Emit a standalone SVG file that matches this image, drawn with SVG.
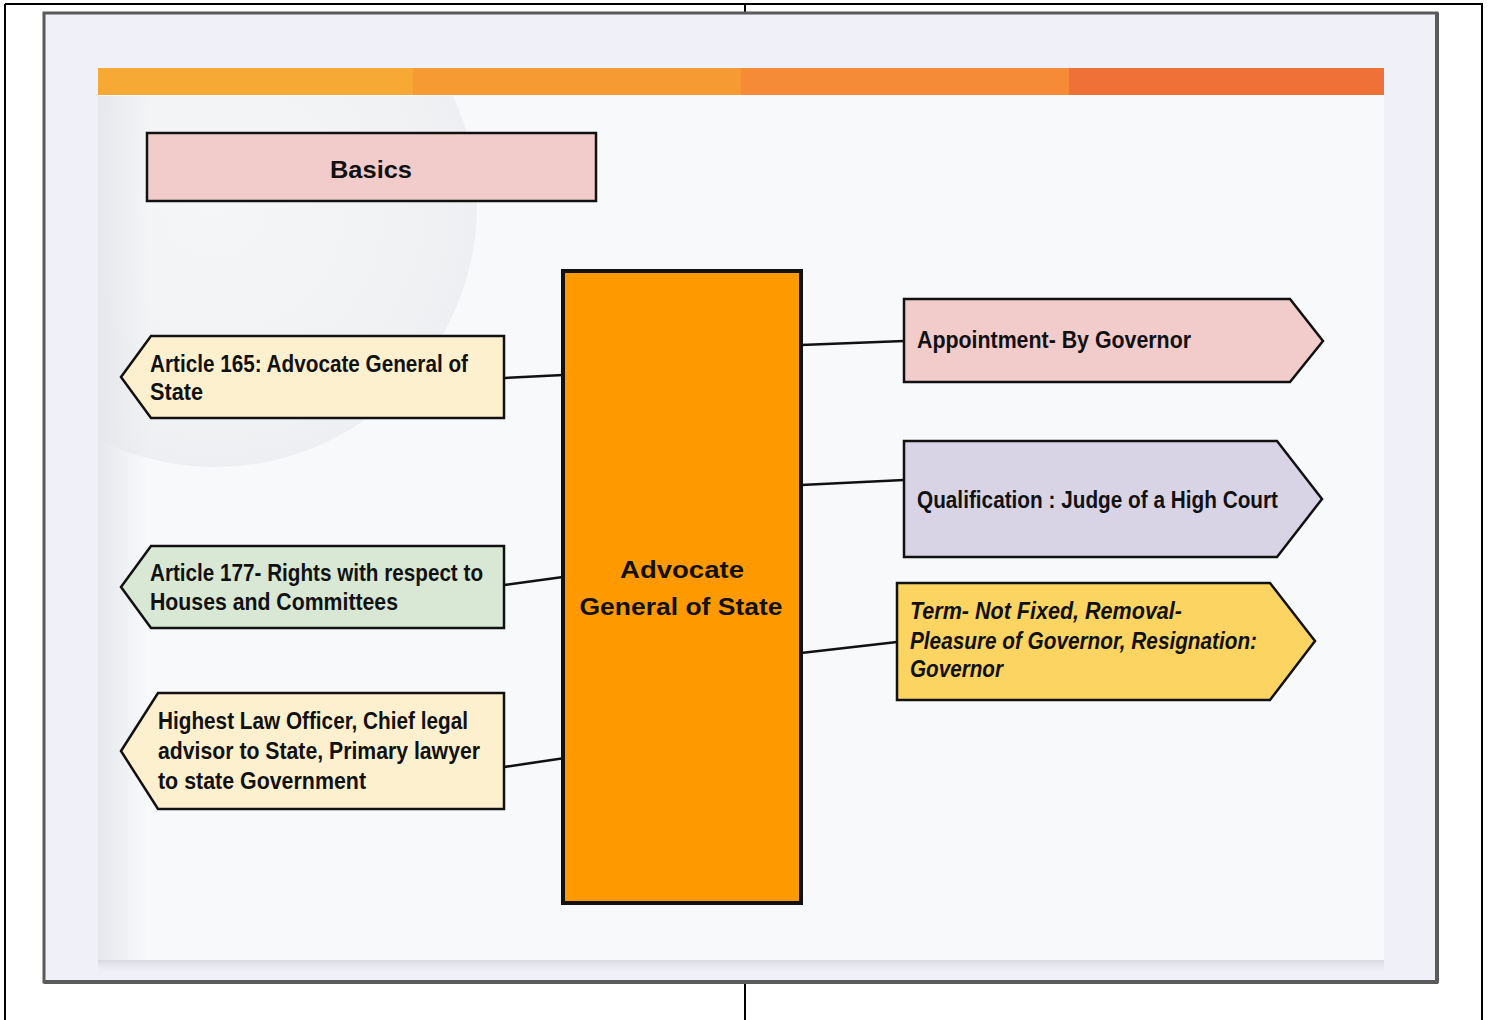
<svg xmlns="http://www.w3.org/2000/svg" width="1492" height="1020" viewBox="0 0 1492 1020">
  <defs>
    <style>
      .box { stroke: #111; stroke-width: 2.5; stroke-linejoin: miter; }
      .t { font-family: "Liberation Sans", Arial, sans-serif; font-weight: bold; font-size: 23px; fill: #111; }
      .ti { font-style: italic; }
      .conn line { stroke: #111; stroke-width: 2.5; }
      .tbl { stroke: #000; stroke-width: 2; }
    </style>
    <linearGradient id="leftShade" x1="0" y1="0" x2="1" y2="0">
      <stop offset="0" stop-color="#e6e7eb"/>
      <stop offset="1" stop-color="#e6e7eb" stop-opacity="0"/>
    </linearGradient>
    <radialGradient id="circ" cx="0.5" cy="0.5" r="0.5">
      <stop offset="0" stop-color="#f5f6f8"/>
      <stop offset="0.85" stop-color="#f0f1f3"/>
      <stop offset="1" stop-color="#eeeff2"/>
    </radialGradient>
    <linearGradient id="cardShadow" x1="0" y1="0" x2="0" y2="1">
      <stop offset="0" stop-color="#d8d9de"/>
      <stop offset="1" stop-color="#f0f0f8" stop-opacity="0"/>
    </linearGradient>
    <clipPath id="cardClip"><rect x="98" y="96" width="1286" height="864"/></clipPath>
  </defs>

  <!-- page background & table lines -->
  <rect x="0" y="0" width="1492" height="1020" fill="#ffffff"/>
  <g id="table">
    <line class="tbl" x1="5" y1="4" x2="1483" y2="4"/>
    <line class="tbl" x1="5" y1="4" x2="5" y2="1020"/>
    <line class="tbl" x1="1482" y1="4" x2="1482" y2="1020"/>
    <line class="tbl" x1="745" y1="4" x2="745" y2="14"/>
    <line class="tbl" x1="745" y1="982" x2="745" y2="1020"/>
  </g>

  <!-- image frame -->
  <rect x="44" y="13" width="1393" height="969" fill="#f0f0f8" stroke="#5a5a5a" stroke-width="3"/>
  <line x1="1437" y1="13" x2="1437" y2="983" stroke="#5a5a5a" stroke-width="4"/>
  <line x1="44" y1="982" x2="1438" y2="982" stroke="#5a5a5a" stroke-width="4"/>

  <!-- card -->
  <rect x="98" y="960" width="1286" height="14" fill="url(#cardShadow)"/>
  <rect x="98" y="68" width="1286" height="892" fill="#f8f9fb"/>
  <circle cx="215" cy="205" r="262" fill="url(#circ)" clip-path="url(#cardClip)"/>
  <rect x="98" y="96" width="50" height="864" fill="url(#leftShade)"/>

  <!-- top bar -->
  <rect x="98" y="68" width="316" height="27" fill="#f6aa35"/>
  <rect x="413" y="68" width="329" height="27" fill="#f69b33"/>
  <rect x="741" y="68" width="329" height="27" fill="#f58a37"/>
  <rect x="1069" y="68" width="315" height="27" fill="#f07138"/>

  <!-- connectors -->
  <g id="connectors" class="conn">
    <line x1="504" y1="378" x2="563" y2="375"/>
    <line x1="504" y1="585" x2="563" y2="577"/>
    <line x1="504" y1="767" x2="565" y2="758"/>
    <line x1="801" y1="345" x2="904" y2="341"/>
    <line x1="801" y1="485" x2="904" y2="480"/>
    <line x1="801" y1="653" x2="897" y2="642"/>
  </g>

  <g id="basics">
    <rect class="box" x="147" y="133" width="449" height="68" fill="#f2cbcb"/>
    <text class="t" x="371" y="178" font-size="27" text-anchor="middle" textLength="82" lengthAdjust="spacingAndGlyphs">Basics</text>
  </g>

  <g id="center">
    <rect x="563" y="271" width="238" height="632" fill="#ff9900" stroke="#111" stroke-width="4"/>
    <text class="t" x="682" y="578" font-size="27" text-anchor="middle" textLength="124" lengthAdjust="spacingAndGlyphs">Advocate</text>
    <text class="t" x="681" y="615" font-size="27" text-anchor="middle" textLength="203" lengthAdjust="spacingAndGlyphs">General of State</text>
  </g>

  <g id="art165">
    <polygon class="box" points="121,377 151,336 504,336 504,418 151,418" fill="#fdf0cf"/>
    <text class="t" x="150" y="372" textLength="318" lengthAdjust="spacingAndGlyphs">Article 165: Advocate General of</text>
    <text class="t" x="150" y="400" textLength="53" lengthAdjust="spacingAndGlyphs">State</text>
  </g>

  <g id="art177">
    <polygon class="box" points="121,587 151,546 504,546 504,628 151,628" fill="#d8e8d4"/>
    <text class="t" x="150" y="581" textLength="333" lengthAdjust="spacingAndGlyphs">Article 177- Rights with respect to</text>
    <text class="t" x="150" y="610" textLength="248" lengthAdjust="spacingAndGlyphs">Houses and Committees</text>
  </g>

  <g id="highest">
    <polygon class="box" points="121,751 158,693 504,693 504,809 158,809" fill="#fdf0cf"/>
    <text class="t" x="158" y="729" textLength="310" lengthAdjust="spacingAndGlyphs">Highest Law Officer, Chief legal</text>
    <text class="t" x="158" y="759" textLength="322" lengthAdjust="spacingAndGlyphs">advisor to State, Primary lawyer</text>
    <text class="t" x="158" y="789" textLength="208" lengthAdjust="spacingAndGlyphs">to state Government</text>
  </g>

  <g id="appointment">
    <polygon class="box" points="904,299 1290,299 1323,341 1290,382 904,382" fill="#f2cbcb"/>
    <text class="t" x="917" y="348" textLength="274" lengthAdjust="spacingAndGlyphs">Appointment- By Governor</text>
  </g>

  <g id="qualification">
    <polygon class="box" points="904,441 1277,441 1322,499 1277,557 904,557" fill="#d9d3e6"/>
    <text class="t" x="917" y="508" textLength="361" lengthAdjust="spacingAndGlyphs">Qualification : Judge of a High Court</text>
  </g>

  <g id="term">
    <polygon class="box" points="897,583 1270,583 1315,641 1270,700 897,700" fill="#fbd462"/>
    <text class="t ti" x="910" y="619" textLength="272" lengthAdjust="spacingAndGlyphs">Term- Not Fixed, Removal-</text>
    <text class="t ti" x="910" y="649" textLength="347" lengthAdjust="spacingAndGlyphs">Pleasure of Governor, Resignation:</text>
    <text class="t ti" x="910" y="677" textLength="93" lengthAdjust="spacingAndGlyphs">Governor</text>
  </g>
</svg>
